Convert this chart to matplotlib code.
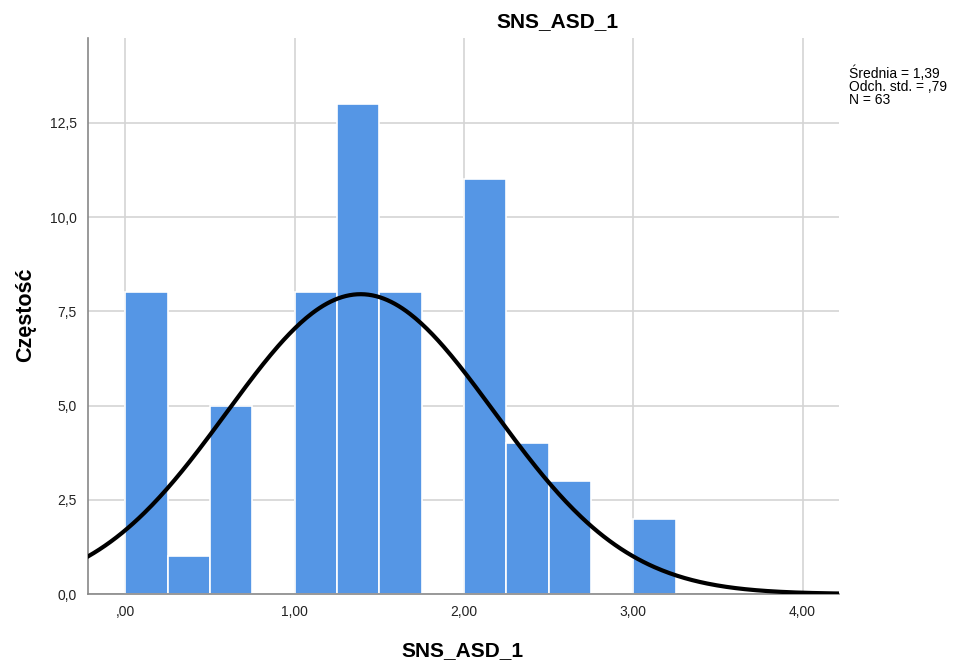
import numpy as np
import matplotlib.pyplot as plt

plt.rcParams['font.family'] = ['Liberation Sans', 'DejaVu Sans']

# histogram bins (width 0.25) and counts
bin_left = [0.00, 0.25, 0.50, 0.75, 1.00, 1.25, 1.50, 1.75, 2.00, 2.25, 2.50, 2.75, 3.00]
counts = [8, 1, 5, 0, 8, 13, 8, 0, 11, 4, 3, 0, 2]
bin_width = 0.25

mean = 1.39
sd = 0.79
n = 63

xticks = [0, 1, 2, 3, 4]
xtick_labels = [",00", "1,00", "2,00", "3,00", "4,00"]
yticks = [0, 2.5, 5, 7.5, 10, 12.5]
ytick_labels = ["0,0", "2,5", "5,0", "7,5", "10,0", "12,5"]

fig = plt.figure(figsize=(9.59, 6.66), dpi=100)
ax = fig.add_axes([88/959, 1 - 594/666, (839 - 88)/959, (594 - 38)/666])

ax.bar(bin_left, counts, width=bin_width, align='edge', color='#5596e5',
       edgecolor='white', linewidth=1.2, zorder=2)

# fitted normal curve
x = np.linspace(-0.22, 4.215, 400)
y = n * bin_width / (sd * np.sqrt(2 * np.pi)) * np.exp(-0.5 * ((x - mean) / sd) ** 2)
ax.plot(x, y, color='black', linewidth=3, zorder=3)

ax.set_xlim(-0.22, 4.215)
ax.set_ylim(0, 14.75)
ax.set_xticks(xticks)
ax.set_xticklabels(xtick_labels)
ax.set_yticks(yticks)
ax.set_yticklabels(ytick_labels)
ax.tick_params(length=0, labelsize=10, colors='#222222', pad=8)
ax.grid(color='#d4d4d4', linewidth=1.2, zorder=0)
ax.set_axisbelow(True)
for s in ['top', 'right']:
    ax.spines[s].set_visible(False)
for s in ['left', 'bottom']:
    ax.spines[s].set_color('#888888')
    ax.spines[s].set_linewidth(1.2)

fig.text(462/959, 1 - 651/666, "SNS_ASD_1", fontsize=15, fontweight='bold',
         ha='center', va='center')
fig.text(26/959, 1 - 315/666, "Częstość", fontsize=15.5, fontweight='bold',
         ha='center', va='center', rotation=90)
fig.text(557/959, 1 - 22/666, "SNS_ASD_1", fontsize=15, fontweight='bold',
         ha='center', va='center')

fig.text(849/959, 1 - 65/666, "Średnia = 1,39\nOdch. std. = ,79\nN = 63",
         fontsize=10, va='top', ha='left', linespacing=0.95)

fig.savefig("out.png", dpi=100)
